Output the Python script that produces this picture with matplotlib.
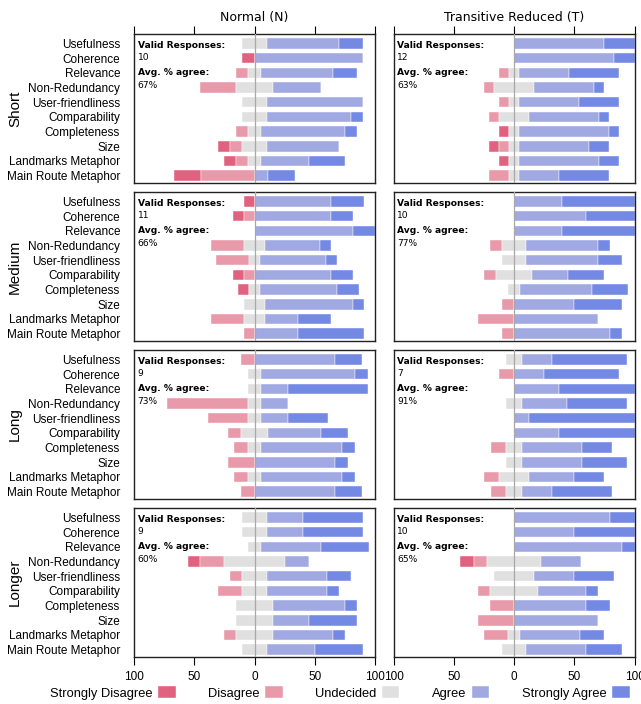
import matplotlib
matplotlib.use('Agg')
import matplotlib.pyplot as plt
from matplotlib.patches import Patch

# -------------------------
# Data (percent of responses per category)
# order of each row: strongly disagree, disagree, undecided, agree, strongly agree
# -------------------------
categories = ['Usefulness', 'Coherence', 'Relevance', 'Non-Redundancy', 'User-friendliness',
              'Comparability', 'Completeness', 'Size', 'Landmarks Metaphor', 'Main Route Metaphor']
levels = ['Strongly Disagree', 'Disagree', 'Undecided', 'Agree', 'Strongly Agree']
colors = ['#e0627f', '#e89aaa', '#e0e0e0', '#a1a9e2', '#7489e4']
lengths = ['Short', 'Medium', 'Long', 'Longer']
conditions = ['Normal (N)', 'Transitive Reduced (T)']

short_n = [[0, 0, 20, 60, 20], [10, 0, 0, 90, 0], [0, 10, 10, 60, 20], [0, 30, 30, 40, 0],
           [0, 0, 20, 80, 0], [0, 0, 20, 70, 10], [0, 10, 10, 70, 10], [10, 10, 20, 60, 0],
           [10, 10, 10, 40, 30], [22.2, 44.4, 0, 11.1, 22.2]]
short_t = [[0, 0, 0, 75, 25], [0, 0, 0, 83.3, 16.7], [0, 8.3, 8.3, 41.7, 41.7], [0, 8.3, 33.3, 50, 8.3],
           [0, 8.3, 8.3, 50, 33.3], [0, 8.3, 25, 58.3, 8.3], [8.3, 0, 8.3, 75, 8.3],
           [8.3, 8.3, 8.3, 58.3, 16.7], [8.3, 0, 8.3, 66.7, 16.7], [0, 16.7, 8.3, 33.3, 41.7]]
medium_n = [[9.1, 0, 0, 63.6, 27.3], [9.1, 9.1, 0, 63.6, 18.2], [0, 0, 0, 81.8, 18.2],
            [0, 27.3, 18.2, 45.5, 9.1], [0, 27.3, 9.1, 54.5, 9.1], [9.1, 9.1, 0, 63.6, 18.2],
            [9.1, 0, 9.1, 63.6, 18.2], [0, 0, 18.2, 72.7, 9.1], [0, 27.3, 18.2, 27.3, 27.3],
            [0, 9.1, 0, 36.4, 54.5]]
medium_t = [[0, 0, 0, 40, 60], [0, 0, 0, 60, 40], [0, 0, 0, 40, 60], [0, 10, 20, 60, 10],
            [0, 0, 20, 60, 20], [0, 10, 30, 30, 30], [0, 0, 10, 60, 30], [0, 10, 0, 50, 40],
            [0, 30, 0, 70, 0], [0, 10, 0, 80, 10]]
long_n = [[0, 11.1, 0, 66.7, 22.2], [0, 0, 11.1, 77.8, 11.1], [0, 0, 11.1, 22.2, 66.7],
          [0, 66.7, 11.1, 22.2, 0], [0, 33.3, 11.1, 22.2, 33.3], [0, 11.1, 22.2, 44.4, 22.2],
          [0, 11.1, 11.1, 66.7, 11.1], [0, 22.2, 0, 66.7, 11.1], [0, 11.1, 11.1, 66.7, 11.1],
          [0, 11.1, 0, 66.7, 22.2]]
long_t = [[0, 0, 12.5, 25, 62.5], [0, 12.5, 0, 25, 62.5], [0, 0, 0, 37.5, 62.5], [0, 0, 12.5, 37.5, 50],
          [0, 0, 0, 12.5, 87.5], [0, 0, 0, 37.5, 62.5], [0, 12.5, 12.5, 50, 25], [0, 0, 12.5, 50, 37.5],
          [0, 12.5, 25, 37.5, 25], [0, 12.5, 12.5, 25, 50]]
longer_n = [[0, 0, 20, 30, 50], [0, 0, 20, 30, 50], [0, 0, 10, 50, 40], [10, 20, 50, 20, 0],
            [0, 10, 20, 50, 20], [0, 20, 20, 50, 10], [0, 0, 30, 60, 10], [0, 0, 30, 30, 40],
            [0, 10, 30, 50, 10], [0, 0, 20, 40, 40]]
longer_t = [[0, 0, 0, 80, 20], [0, 0, 0, 50, 50], [0, 0, 0, 90, 10], [11.1, 11.1, 44.4, 33.3, 0],
            [0, 0, 33.3, 33.3, 33.3], [0, 10, 40, 40, 10], [0, 20, 0, 60, 20], [0, 30, 0, 70, 0],
            [0, 20, 10, 50, 20], [0, 0, 20, 50, 30]]

valid_n = [10, 11, 9, 9]
valid_t = [12, 10, 7, 10]
agree_n = [67, 66, 73, 60]
agree_t = [63, 77, 91, 65]

panels = [[short_n, short_t], [medium_n, medium_t], [long_n, long_t], [longer_n, longer_t]]
valid = [valid_n, valid_t]
agree = [agree_n, agree_t]

label_font = 'Liberation Sans'

# -------------------------
# Figure
# -------------------------
W, H = 641, 704
fig = plt.figure(figsize=(W / 100, H / 100), dpi=100)

col_x = [134, 393.5]
panel_w = 241
row_top = [34, 192, 350, 508]
panel_h = 149


def draw_panel(ax, data):
    y = list(range(len(categories)))
    sd = [r[0] for r in data]
    d = [r[1] for r in data]
    u = [r[2] for r in data]
    a = [r[3] for r in data]
    sa = [r[4] for r in data]
    start = [-(sd[i] + d[i] + u[i] / 2) for i in y]
    segs = [sd, d, u, a, sa]
    left = start[:]
    for k, seg in enumerate(segs):
        ax.barh(y, seg, left=left, height=0.72, color=colors[k],
                edgecolor='white', linewidth=0.3, zorder=2)
        left = [left[i] + seg[i] for i in y]
    ax.axvline(0, color='#a8a8a8', lw=0.9, zorder=3)
    ax.set_xlim(-100, 100)
    ax.set_ylim(9.5, -0.64)
    for s in ax.spines.values():
        s.set_linewidth(1.0)
        s.set_color('#222222')


for r in range(4):
    for c in range(2):
        ax = fig.add_axes([col_x[c] / W, 1 - (row_top[r] + panel_h) / H, panel_w / W, panel_h / H])
        draw_panel(ax, panels[r][c])
        ax.set_xticks([-100, -50, 0, 50, 100])
        ax.set_yticks(range(len(categories)))
        if c == 0:
            ax.set_yticklabels(categories, fontsize=8.5, family=label_font)
            ax.tick_params(axis='y', length=0, pad=10)
            fig.text(15 / W, 1 - (row_top[r] + panel_h / 2) / H, lengths[r], rotation=90,
                     fontsize=11, family=label_font, ha='center', va='center')
        else:
            ax.set_yticklabels([])
            ax.tick_params(axis='y', length=0)
        if r == 0:
            ax.xaxis.tick_top()
            ax.tick_params(axis='x', direction='out', length=6, width=0.8, labeltop=False)
            ax.set_title(conditions[c], fontsize=9, family='DejaVu Sans', pad=9)
        elif r == 3:
            ax.set_xticklabels(['100', '50', '0', '50', '100'], fontsize=8.5, family=label_font)
            ax.tick_params(axis='x', direction='out', length=6, width=0.8, pad=4)
        else:
            ax.tick_params(axis='x', length=0, labelbottom=False)

        # info text
        ax.text(0.015, 0.955, 'Valid Responses:', transform=ax.transAxes, fontsize=6.6,
                fontweight='bold', va='top', ha='left')
        ax.text(0.015, 0.87, str(valid[c][r]), transform=ax.transAxes, fontsize=6.6,
                va='top', ha='left')
        ax.text(0.015, 0.77, 'Avg. % agree:', transform=ax.transAxes, fontsize=6.6,
                fontweight='bold', va='top', ha='left')
        ax.text(0.015, 0.685, f'{agree[c][r]}%', transform=ax.transAxes, fontsize=6.6,
                va='top', ha='left')

# -------------------------
# Legend
# -------------------------
handles = [Patch(facecolor=colors[k], edgecolor='white', linewidth=0.3) for k in range(5)]
fig.legend(handles, levels, loc='center right', bbox_to_anchor=(636 / W, 1 - 693 / H),
           ncol=5, frameon=False, markerfirst=False, handlelength=1.35, handleheight=0.95,
           handletextpad=0.45, columnspacing=2.5, borderpad=0,
           prop={'family': label_font, 'size': 9.3})

fig.savefig('out.png', dpi=100)
